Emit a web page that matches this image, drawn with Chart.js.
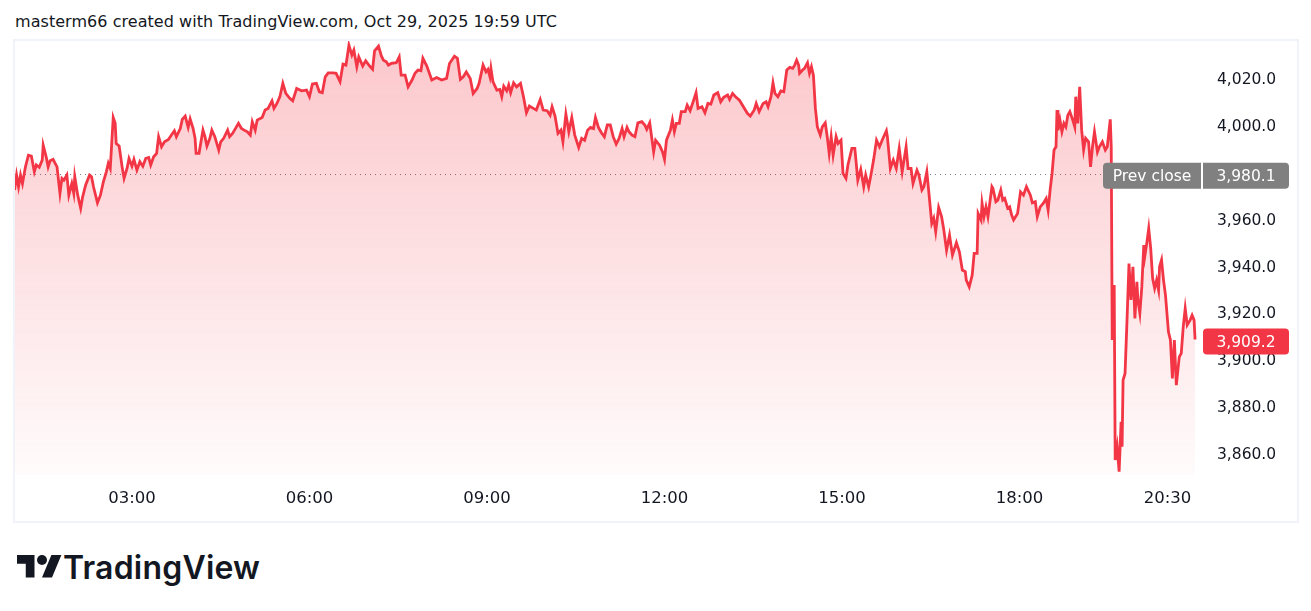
<!DOCTYPE html>
<html lang="en">
  <head>
    <meta charset="utf-8" />
    <title>Snapshot</title>
    <style>
      * {
        margin: 0;
        padding: 0;
      }
      body {
        width: 1311px;
        height: 611px;
        background: #ffffff;
        position: relative;
        overflow: hidden;
        font-family: "DejaVu Sans", sans-serif;
        color: #131722;
      }
      .header {
        position: absolute;
        left: 15px;
        top: 12px;
        font-size: 16px;
        letter-spacing: 0.05px;
        white-space: nowrap;
      }
      .frame {
        position: absolute;
        left: 13px;
        top: 39px;
        width: 1282px;
        height: 480px;
        border: 2px solid #f0f3fa;
      }
      .chartBox {
        position: absolute;
        left: 15px;
        top: 41px;
        width: 1282px;
        height: 480px;
      }
      .logo {
        position: absolute;
        left: 17px;
        top: 548px;
        display: flex;
        align-items: center;
      }
      .logo span {
        font-family: Inter, sans-serif;
        font-weight: 600;
        font-size: 32px;
        letter-spacing: 0.2px;
        margin-left: 1px;
        color: #131722;
      }
    </style>
  </head>
  <body>
    <div class="header">masterm66 created with TradingView.com, Oct 29, 2025 19:59 UTC</div>
    <div class="frame"></div>
    <div class="chartBox">
      <canvas id="myChart" width="1282" height="480"></canvas>
    </div>
    <div class="logo">
      <svg width="45" height="35" viewBox="0 0 36 28">
        <path d="M14 22H7V11H0V4h14v18zM28 22h-8l7.5-18h8L28 22z" fill="#131722" />
        <circle cx="20" cy="8" r="4" fill="#131722" />
      </svg>
      <span>TradingView</span>
    </div>

    <script src="https://cdn.jsdelivr.net/npm/chart.js@4.4.1/dist/chart.umd.min.js"></script>

    <script>
      // minutes since 00:00 of each sample
      const times = [
        61, 63, 65, 67, 69, 72, 75, 78, 81, 83, 86, 89, 90, 93, 95, 97, 100, 104, 107, 109, 111, 114, 116, 119, 121, 122, 125, 128, 130, 133,
        137, 139, 141, 145, 148, 151, 154, 156, 158, 161, 163, 164, 167, 170, 172, 175, 177, 180, 182, 185, 188, 191, 194, 197, 199, 202, 205,
        207, 210, 213, 217, 220, 223, 225, 229, 231, 234, 237, 239, 242, 244, 245, 248, 252, 254, 256, 259, 261, 264, 268, 270, 273, 277, 279,
        282, 284, 288, 291, 295, 297, 300,
        302, 305, 307, 312, 315, 318, 322, 324, 327, 330, 333, 336, 340, 343, 347, 352, 357, 360, 363, 367, 370, 373, 376, 379, 384, 387, 391,
        394, 397, 400, 403, 405, 408, 410, 414, 417, 421, 424, 426, 430, 433, 435, 438, 440, 443, 448, 451, 453, 457, 460, 464, 467, 470, 473,
        475, 479, 484, 489, 494, 499, 502, 507, 510, 513, 516, 519, 523, 526, 530, 532, 536, 539, 541, 543,
        544, 546, 550, 553, 555, 557, 560, 562, 564, 567, 570, 574, 577, 580, 583, 587, 590, 594, 597, 601, 604, 606, 609, 612, 615, 617, 620,
        623, 626, 629, 633, 636, 639, 642, 645, 648, 650, 653, 656, 659, 662, 665, 668, 671, 674, 677, 679, 682, 684, 687, 690, 693, 697, 700,
        702, 705, 709, 711, 715, 718, 720, 722, 726, 728, 730, 732, 735, 737, 741, 743, 746, 749, 752, 754, 758, 761, 764, 767, 770, 774, 777,
        780, 784, 786,
        789, 792, 796, 800, 804, 807, 811, 813, 816, 820, 823, 825, 828, 830, 832, 835, 838, 841, 844, 847, 850, 852, 854, 856, 857, 860, 862,
        865, 867, 869, 871, 873, 875, 878, 880, 883, 885, 887, 889, 891, 894, 896, 899, 901, 904, 906, 910, 913, 916, 919, 922, 924, 927, 929,
        932, 935, 938, 941, 945, 946, 949, 952, 955, 958, 961, 965, 967, 970, 972, 976, 978, 981, 983, 986, 988, 991, 993, 995, 998, 1001, 1003,
        1006, 1009, 1012, 1016, 1019,
        1022, 1025, 1026, 1029, 1032, 1034, 1037, 1038, 1041, 1042, 1044, 1046, 1048, 1052, 1053, 1056, 1058, 1061, 1063, 1065, 1068, 1070,
        1072, 1074, 1078, 1081, 1084, 1087, 1091, 1093, 1096, 1098, 1101, 1104, 1107, 1109, 1111, 1113, 1115, 1117, 1118, 1119, 1121, 1123,
        1125, 1127, 1129, 1131, 1134, 1136, 1137, 1139, 1141, 1143, 1145, 1147, 1150, 1152, 1154, 1156, 1159, 1161, 1164, 1167, 1169, 1172,
        1173, 1174, 1176, 1177, 1179, 1181, 1183, 1184, 1185, 1187, 1189, 1191, 1193, 1195, 1197, 1199, 1200, 1202, 1204, 1206, 1207, 1209,
        1211, 1213, 1215, 1217, 1219, 1221, 1222, 1224, 1226, 1228, 1231, 1233, 1235, 1237, 1239, 1242, 1244, 1246, 1248, 1250, 1253, 1255,
        1257, 1258,
      ];

      const prices = [
        3973.1, 3979.5, 3974.5, 3979.5, 3975.9, 3983.0, 3988.0, 3987.6, 3980.9, 3983.8, 3982.8, 3985.9, 3992.3, 3987.3, 3983.0, 3985.6, 3986.2,
        3983.0, 3971.7, 3978.1, 3977.3, 3979.5, 3970.9, 3975.9, 3971.7, 3978.8, 3970.9, 3965.3, 3970.2, 3975.2, 3979.5, 3978.8, 3974.5, 3967.6,
        3970.9, 3976.6, 3980.9, 3984.5, 3982.3, 4004.1, 4001.6, 3993.0, 3991.9, 3983.0, 3978.1, 3982.3, 3986.6, 3983.3, 3986.2, 3981.6, 3985.2,
        3983.3, 3986.6, 3987.0, 3983.8, 3987.3, 3988.8, 3995.9, 3991.6, 3993.7, 3994.7, 3996.6, 3998.4, 3995.9, 3999.4, 4003.3, 4004.7, 3999.9,
        4003.5, 3999.4, 3995.2, 3988.8, 3988.8, 3998.7, 3995.9, 3991.9, 3995.2, 3998.7, 3995.9, 3990.2, 3993.7, 3995.2, 3998.7, 3995.9, 3997.3,
        3998.7, 4001.6, 3999.4, 3998.4, 3998.0, 3996.6,
        4002.3, 3998.7, 4003.0, 4004.1, 4007.3, 4008.0, 4011.2, 4008.0, 4010.1, 4013.0, 4018.7, 4014.4, 4012.3, 4011.2, 4016.5, 4015.5, 4015.8,
        4013.0, 4018.4, 4018.7, 4015.1, 4014.7, 4021.5, 4023.2, 4023.2, 4023.0, 4019.4, 4026.9, 4026.5, 4035.0, 4030.8, 4032.9, 4025.8, 4030.0,
        4026.1, 4028.3, 4026.1, 4024.7, 4032.6, 4034.6, 4030.3, 4028.6, 4027.9, 4026.5, 4027.2, 4027.5, 4030.0, 4022.2, 4022.2, 4017.2, 4020.1,
        4023.0, 4024.4, 4024.1, 4029.4, 4026.1, 4020.1, 4021.2, 4020.1, 4020.8, 4027.2, 4030.3, 4029.4, 4020.4, 4021.5, 4023.6, 4020.8, 4014.4,
        4016.5, 4018.7, 4026.5, 4023.6, 4024.7, 4021.5,
        4025.1, 4019.4, 4015.8, 4016.1, 4013.0, 4017.5, 4015.5, 4018.0, 4014.7, 4018.9, 4017.2, 4018.7, 4013.0, 4006.1, 4009.0, 4008.0, 4007.3,
        4011.8, 4007.3, 4007.0, 4005.1, 4008.7, 4004.7, 3997.3, 3998.7, 3993.7, 4005.6, 3998.0, 4004.1, 3996.6, 3991.3, 3995.2, 3994.4, 3998.7,
        3999.9, 3999.4, 4004.1, 3999.9, 3997.6, 3995.9, 4000.9, 4000.9, 3995.9, 3992.7, 3995.2, 3999.4, 3995.9, 3999.9, 3998.0, 3996.6, 3995.9,
        4001.8, 4002.3, 4000.9, 3999.0, 4001.8, 3989.4, 3994.4, 3992.3, 3989.4, 3986.2, 3994.4, 3998.7, 4003.0, 3998.0, 4001.6, 4001.6, 4006.6,
        4006.6, 4009.4, 4007.0, 4010.8, 4014.7, 4008.0, 4008.7, 4006.1, 4010.1, 4009.8, 4013.7, 4014.7, 4010.8, 4012.7, 4013.7, 4011.8,
        4014.4, 4013.0, 4011.5, 4008.7, 4005.9, 4004.7, 4007.3, 4010.1, 4006.6, 4010.1, 4010.8, 4008.7, 4013.0, 4018.9, 4014.4, 4013.0, 4015.5,
        4015.1, 4024.4, 4025.5, 4025.1, 4026.5, 4028.6, 4026.5, 4023.0, 4024.4, 4025.1, 4027.5, 4023.0, 4025.8, 4022.2, 4008.0, 4000.1, 3996.6,
        4000.1, 4001.8, 3995.9, 3988.8, 3995.9, 3988.0, 3995.9, 3993.0, 3994.4, 3980.2, 3978.1, 3983.8, 3990.9, 3990.9, 3977.3, 3981.9, 3974.5,
        3979.5, 3974.5, 3978.8, 3985.9, 3994.4, 3991.6, 3994.7, 3998.4, 3995.9, 3982.3, 3985.9, 3982.3, 3990.9, 3980.9, 3991.6, 3982.3, 3982.3,
        3975.9, 3981.6, 3979.5, 3973.1, 3974.5, 3980.9, 3972.3, 3958.8, 3961.0, 3955.3, 3965.7, 3961.7, 3956.7, 3947.4, 3953.8, 3945.3, 3950.6,
        3946.7,
        3938.9, 3938.2, 3934.6, 3931.7, 3936.7, 3946.0, 3946.0, 3963.1, 3960.3, 3967.4, 3961.7, 3965.9, 3961.7, 3974.5, 3973.8, 3968.1, 3968.8,
        3973.1, 3968.8, 3969.5, 3965.3, 3965.9, 3962.4, 3960.3, 3963.1, 3972.3, 3970.9, 3974.5, 3970.9, 3967.6, 3968.1, 3961.7, 3965.9, 3967.4,
        3969.5, 3964.5, 3973.1, 3980.2, 3990.2, 3991.6, 4007.3, 3998.7, 4003.0, 3998.0, 4001.6, 4000.1, 4005.1, 4006.6, 4003.0, 4000.1, 4013.0,
        4001.6, 4017.2, 3998.7, 3990.2, 3995.2, 3993.7, 3983.0, 3991.6, 3998.0, 3989.4, 3991.6, 3993.7, 3990.2, 3991.6, 4003.3, 3991.6, 3909.0,
        3932.5, 3857.7, 3863.4, 3852.7, 3874.0, 3863.4, 3891.9, 3894.7, 3917.5, 3941.7, 3926.1, 3940.3, 3918.2, 3933.9, 3926.1, 3920.4, 3931.7,
        3949.6, 3944.6, 3950.3, 3956.7, 3948.2, 3935.3, 3931.1, 3934.6, 3930.3, 3940.3, 3943.2, 3934.6, 3928.2, 3912.5, 3909.0, 3892.6, 3909.0,
        3889.7, 3901.8, 3903.3, 3914.6, 3922.5, 3915.4, 3917.5, 3919.6, 3917.5, 3909.2,
      ];

      // axis labels
      const timeTicks = [180, 360, 540, 720, 900, 1080, 1230];
      const priceTicks = [3860, 3880, 3900, 3920, 3940, 3960, 3980, 4000, 4020];
      const prevClose = 3980.1;
      const lastPrice = prices[prices.length - 1];

      const red = "#F23645";

      const fmtPrice = (v) =>
        v.toLocaleString("en-US", { minimumFractionDigits: 1, maximumFractionDigits: 1 });
      const fmtTime = (m) => {
        const h = Math.floor(m / 60);
        const mm = m % 60;
        return String(h).padStart(2, "0") + ":" + String(mm).padStart(2, "0");
      };

      function roundRect(ctx, x, y, w, h, r) {
        ctx.beginPath();
        ctx.moveTo(x + r[0], y);
        ctx.lineTo(x + w - r[1], y);
        ctx.arcTo(x + w, y, x + w, y + r[1], r[1]);
        ctx.lineTo(x + w, y + h - r[2]);
        ctx.arcTo(x + w, y + h, x + w - r[2], y + h, r[2]);
        ctx.lineTo(x + r[3], y + h);
        ctx.arcTo(x, y + h, x, y + h - r[3], r[3]);
        ctx.lineTo(x, y + r[0]);
        ctx.arcTo(x, y, x + r[0], y, r[0]);
        ctx.closePath();
      }

      // dotted previous close line under the series
      const prevCloseLine = {
        id: "prevCloseLine",
        beforeDatasetsDraw(chart) {
          const { ctx, chartArea, scales } = chart;
          const y = Math.round(scales.y.getPixelForValue(prevClose)) + 0.5;
          ctx.save();
          ctx.strokeStyle = "#787b86";
          ctx.lineWidth = 1;
          ctx.setLineDash([1, 4]);
          ctx.beginPath();
          ctx.moveTo(chartArea.left, y);
          ctx.lineTo(chartArea.right, y);
          ctx.stroke();
          ctx.restore();
        },
      };

      // price tags on the right scale
      const priceTags = {
        id: "priceTags",
        afterDraw(chart) {
          const { ctx, chartArea, scales } = chart;
          const boxH = 26;
          const tagX = chartArea.right + 3;
          const tagW = 86;
          ctx.save();
          ctx.font = "15.5px 'DejaVu Sans'";
          ctx.textBaseline = "middle";

          // prev close
          let y = scales.y.getPixelForValue(prevClose) + 2;
          ctx.fillStyle = "#808080";
          roundRect(ctx, chartArea.right - 97, y - boxH / 2, 98, boxH, [4, 0, 0, 4]);
          ctx.fill();
          roundRect(ctx, tagX, y - boxH / 2, tagW, boxH, [0, 4, 4, 0]);
          ctx.fill();
          ctx.fillStyle = "#ffffff";
          ctx.textAlign = "center";
          ctx.fillText("Prev close", chartArea.right - 48, y + 1);
          ctx.fillText(fmtPrice(prevClose), tagX + tagW / 2, y + 1);

          // last price
          y = scales.y.getPixelForValue(lastPrice) + 2;
          ctx.fillStyle = red;
          roundRect(ctx, tagX, y - boxH / 2, tagW, boxH, [4, 4, 4, 4]);
          ctx.fill();
          ctx.fillStyle = "#ffffff";
          ctx.fillText(fmtPrice(lastPrice), tagX + tagW / 2, y + 1);
          ctx.restore();
        },
      };

      const data = {
        datasets: [
          {
            data: times.map((t, i) => ({ x: t, y: prices[i] })),
            borderColor: red,
            borderWidth: 2.8,
            pointRadius: 0,
            tension: 0,
            fill: "start",
            backgroundColor: (context) => {
              const { ctx, chartArea } = context.chart;
              if (!chartArea) return "rgba(242, 54, 69, 0.2)";
              const g = ctx.createLinearGradient(0, chartArea.top, 0, chartArea.bottom);
              g.addColorStop(0, "rgba(242, 54, 69, 0.28)");
              g.addColorStop(1, "rgba(242, 54, 69, 0.02)");
              return g;
            },
          },
        ],
      };

      const config = {
        type: "line",
        data: data,
        options: {
          responsive: false,
          animation: false,
          layout: { padding: 0 },
          plugins: {
            legend: { display: false },
            tooltip: { enabled: false },
          },
          scales: {
            x: {
              type: "linear",
              min: 61.4,
              max: 1263,
              afterFit(scale) {
                scale.height = 46;
                scale.paddingLeft = 0;
                scale.paddingRight = 0;
              },
              afterBuildTicks(scale) {
                scale.ticks = timeTicks.map((v) => ({ value: v }));
              },
              grid: { display: false, drawTicks: false },
              border: { display: false },
              ticks: {
                autoSkip: false,
                maxRotation: 0,
                padding: 14,
                color: "#131722",
                font: { family: "DejaVu Sans", size: 16.5 },
                callback: (v) => fmtTime(v),
              },
            },
            y: {
              position: "right",
              min: 3851.3,
              max: 4036.8,
              afterFit(scale) {
                scale.width = 97;
                scale.paddingTop = 0;
                scale.paddingBottom = 0;
              },
              afterBuildTicks(scale) {
                scale.ticks = priceTicks.map((v) => ({ value: v }));
              },
              grid: { display: false, drawTicks: false },
              border: { display: false },
              ticks: {
                padding: 17,
                color: "#131722",
                font: { family: "DejaVu Sans", size: 15.5 },
                callback: (v) => fmtPrice(v),
              },
            },
          },
        },
        plugins: [prevCloseLine, priceTags],
      };

      const myChart = new Chart(document.getElementById("myChart"), config);
    </script>
  </body>
</html>
